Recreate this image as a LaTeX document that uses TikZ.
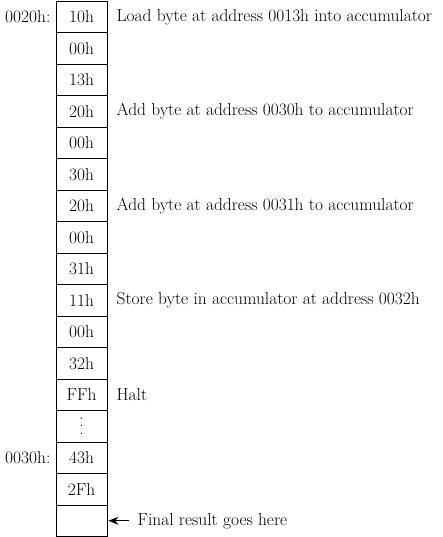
\documentclass[tikz,border=0pt]{standalone}
\usetikzlibrary{positioning,arrows.meta}
\newcommand{\tallvdots}{\vbox{\baselineskip=7.6pt\lineskiplimit=-10pt\hbox{.}\hbox{.}\hbox{.}}}
\tikzset{
        txt/.style={font=\fontsize{17.4}{18}\selectfont},
        cell/.style={txt, draw=black, line width=0.9pt, minimum width=51pt, minimum height=31.5pt, inner sep=0pt},
        note/.style={txt, inner sep=0pt, anchor=west},
        addr/.style={txt, inner sep=0pt, anchor=east},
        ptr/.style={line width=0.9pt, -{Stealth[length=10pt, width=8pt]}}
          }
\begin{document}
\begin{tikzpicture}[x=1pt, y=1pt]
        \useasboundingbox (0,0) rectangle (442,-537);
        \foreach \v [count=\i] in {10h,00h,13h,20h,00h,30h,20h,00h,31h,11h,00h,32h,FFh,{\tallvdots},43h,2Fh,{}}
          \node[cell] (c\i) at (81.5, {-1-(\i-0.5)*31.5}) {\v};
        \node[addr, left=5pt of c1] (a20) {0020h:};
        \node[addr, left=5pt of c15] (a30) {0030h:};
        \node[note, right=9pt of c1] (n1) {Load byte at address 0013h into accumulator};
        \node[note, right=9pt of c4] (n4) {Add byte at address 0030h to accumulator};
        \node[note, right=9pt of c7] (n7) {Add byte at address 0031h to accumulator};
        \node[note, right=9pt of c10] (n10) {Store byte in accumulator at address 0032h};
        \node[note, right=9pt of c13] (n13) {Halt};
        \node[note, right=30pt of c17] (res) {Final result goes here};
        \draw[ptr] ([xshift=-8pt]res.west) -- ([xshift=1pt]c17.east);
      \end{tikzpicture}
\end{document}
